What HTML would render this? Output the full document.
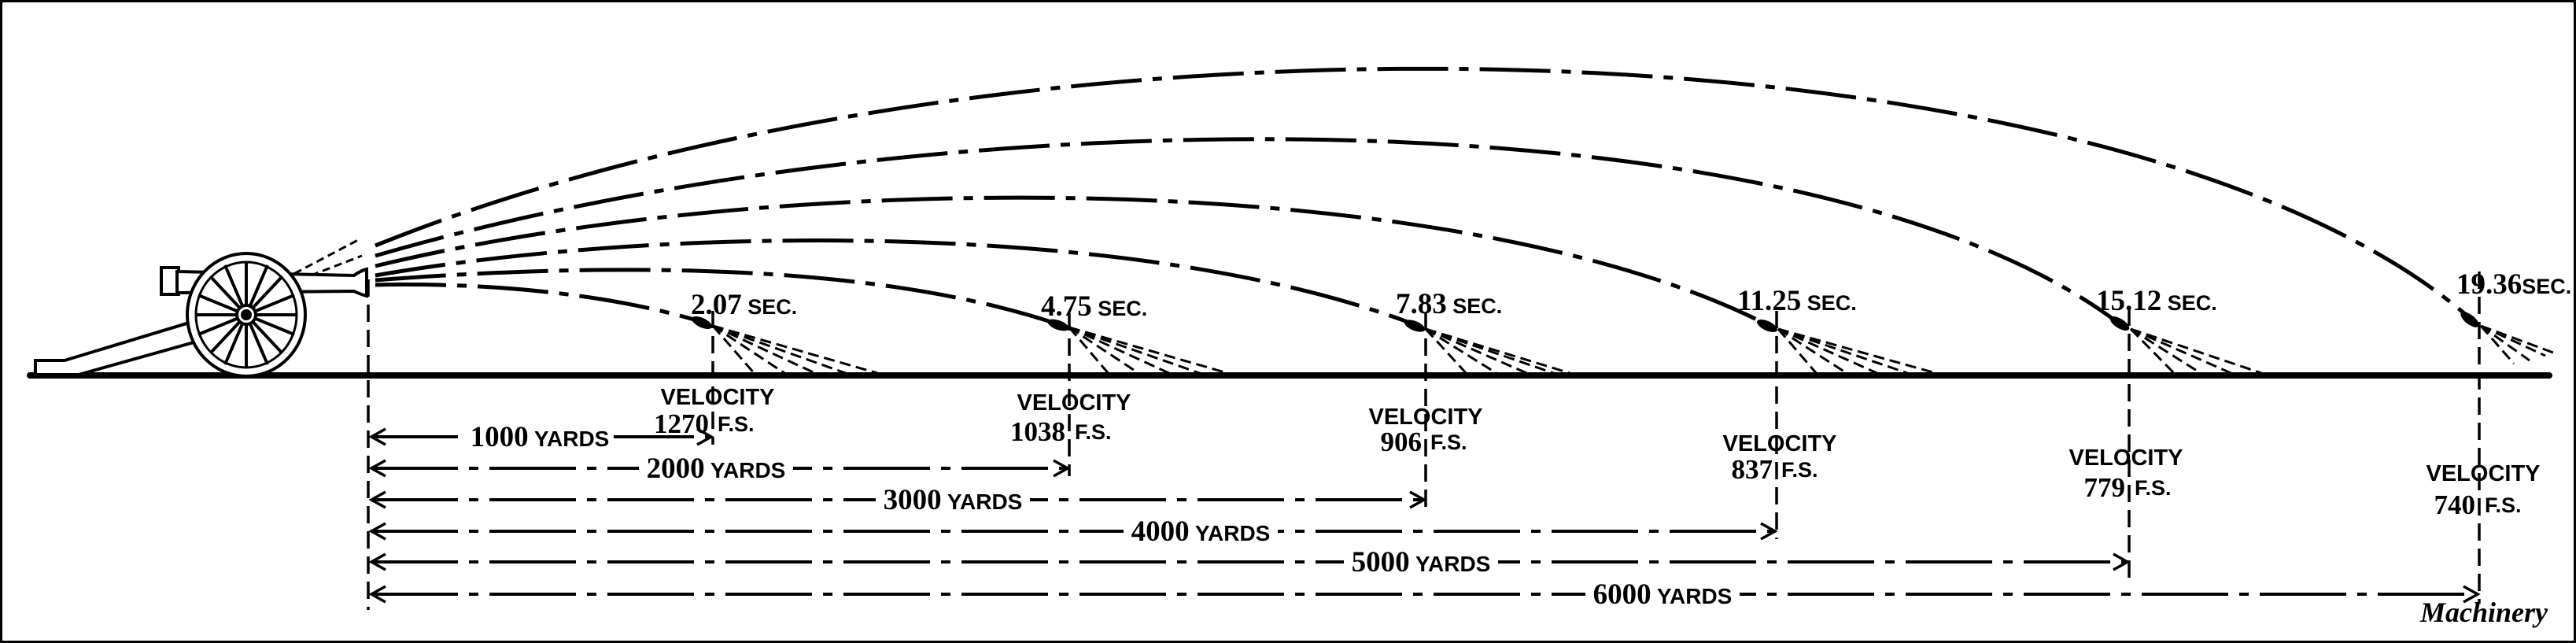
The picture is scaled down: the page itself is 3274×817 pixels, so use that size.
<!DOCTYPE html>
<html><head><meta charset="utf-8"><style>
html,body{margin:0;padding:0;background:#fff}
svg{display:block}
.num{font-family:"Liberation Serif",serif;font-weight:bold}
.g{font-family:"Liberation Sans",sans-serif;font-weight:bold}
</style></head><body>
<svg width="3274" height="817" viewBox="0 0 3274 817" xmlns="http://www.w3.org/2000/svg">
<rect x="1.5" y="1.5" width="3271" height="814" fill="#fff" stroke="#000" stroke-width="3"/>
<line x1="38" y1="477" x2="3240" y2="477" stroke="#000" stroke-width="8" stroke-linecap="round"/>

<g fill="none" stroke="#000" stroke-width="5" stroke-dasharray="90 14 12 14">
<path d="M477,312 C1300,-20 2700,20 3140,405"/>
<path d="M477,325 C1200,115 2300,115 2692,410"/>
<path d="M477,338 C1000,212 1850,212 2245,412"/>
<path d="M477,350 C850,285 1450,280 1797,412"/>
<path d="M477,356 C750,335 1100,330 1345,412"/>
<path d="M477,362 C650,358 800,380 895,410"/>
</g>
<g fill="none" stroke="#000" stroke-width="3" stroke-dasharray="10 6">
<path d="M360,355 L455,305"/><path d="M395,350 L460,325"/>
</g>

<g fill="#000">
<ellipse cx="892" cy="410" rx="14" ry="6" transform="rotate(25 892 410)"/>
<ellipse cx="1345" cy="413" rx="14" ry="6" transform="rotate(20 1345 413)"/>
<ellipse cx="1798" cy="414" rx="14" ry="6" transform="rotate(22 1798 414)"/>
<ellipse cx="2246" cy="414" rx="14" ry="6" transform="rotate(25 2246 414)"/>
<ellipse cx="2694" cy="411" rx="14" ry="6" transform="rotate(32 2694 411)"/>
<ellipse cx="3139" cy="406" rx="14" ry="6" transform="rotate(38 3139 406)"/>
</g>
<g fill="none" stroke="#000" stroke-width="3" stroke-dasharray="14 7">
<path d="M906,414 L960,476 M906,414 L1000,476 M906,414 L1040,476 M906,414 L1080,476 M906,414 L1115,474"/>
<path d="M1359,416 L1410,476 M1359,416 L1450,476 M1359,416 L1490,476 M1359,416 L1530,476 M1359,416 L1560,474"/>
<path d="M1812,418 L1865,476 M1812,418 L1905,476 M1812,418 L1945,476 M1812,418 L1980,476 M1812,418 L1995,474"/>
<path d="M2260,418 L2310,476 M2260,418 L2350,476 M2260,418 L2390,476 M2260,418 L2430,476 M2260,418 L2460,474"/>
<path d="M2708,418 L2765,476 M2708,418 L2800,476 M2708,418 L2840,476 M2708,418 L2880,476"/>
<path d="M3153,414 L3195,462 M3153,414 L3215,458 M3153,414 L3235,452 M3153,414 L3245,448"/>
</g>

<g stroke="#000" stroke-width="3.5" stroke-dasharray="22 10">
<line x1="468" y1="355" x2="468" y2="775"/>
<line x1="906" y1="395" x2="906" y2="565"/>
<line x1="1359" y1="398" x2="1359" y2="605"/>
<line x1="1812" y1="398" x2="1812" y2="645"/>
<line x1="2258" y1="395" x2="2258" y2="685"/>
<line x1="2706" y1="392" x2="2706" y2="737"/>
<line x1="3151" y1="345" x2="3151" y2="767"/>
</g>

<g fill="none" stroke="#000" stroke-width="4" stroke-dasharray="110 14 12 14">
<line x1="472" y1="555" x2="904" y2="555"/>
<line x1="472" y1="595" x2="1357" y2="595"/>
<line x1="472" y1="635" x2="1810" y2="635"/>
<line x1="472" y1="675" x2="2256" y2="675"/>
<line x1="472" y1="714" x2="2704" y2="714"/>
<line x1="472" y1="755" x2="3149" y2="755"/>
</g>
<g fill="none" stroke="#000" stroke-width="3.5">
<path d="M490,545 L472,555 L490,565 M886,545 L904,555 L886,565"/>
<path d="M490,585 L472,595 L490,605 M1339,585 L1357,595 L1339,605"/>
<path d="M490,625 L472,635 L490,645 M1792,625 L1810,635 L1792,645"/>
<path d="M490,665 L472,675 L490,685 M2238,665 L2256,675 L2238,685"/>
<path d="M490,704 L472,714 L490,724 M2686,704 L2704,714 L2686,724"/>
<path d="M490,745 L472,755 L490,765 M3131,745 L3149,755 L3131,765"/>
</g>
<g text-anchor="middle">
<rect x="590" y="538" width="190" height="34" fill="#fff"/>
<text x="686" y="567"><tspan class="num" font-size="37">1000</tspan><tspan class="g" font-size="28"> YARDS</tspan></text>
<rect x="812" y="578" width="196" height="34" fill="#fff"/>
<text x="910" y="607"><tspan class="num" font-size="37">2000</tspan><tspan class="g" font-size="28"> YARDS</tspan></text>
<rect x="1113" y="618" width="196" height="34" fill="#fff"/>
<text x="1211" y="647"><tspan class="num" font-size="37">3000</tspan><tspan class="g" font-size="28"> YARDS</tspan></text>
<rect x="1428" y="658" width="196" height="34" fill="#fff"/>
<text x="1526" y="687"><tspan class="num" font-size="37">4000</tspan><tspan class="g" font-size="28"> YARDS</tspan></text>
<rect x="1708" y="697" width="196" height="34" fill="#fff"/>
<text x="1806" y="726"><tspan class="num" font-size="37">5000</tspan><tspan class="g" font-size="28"> YARDS</tspan></text>
<rect x="2015" y="738" width="196" height="34" fill="#fff"/>
<text x="2113" y="767"><tspan class="num" font-size="37">6000</tspan><tspan class="g" font-size="28"> YARDS</tspan></text>
</g>

<g>
<text x="878" y="399"><tspan class="num" font-size="37">2.07</tspan><tspan class="g" font-size="27"> SEC.</tspan></text>
<text x="1323" y="401"><tspan class="num" font-size="37">4.75</tspan><tspan class="g" font-size="27"> SEC.</tspan></text>
<text x="1774" y="398"><tspan class="num" font-size="37">7.83</tspan><tspan class="g" font-size="27"> SEC.</tspan></text>
<text x="2208" y="394"><tspan class="num" font-size="37">11.25</tspan><tspan class="g" font-size="27"> SEC.</tspan></text>
<text x="2664" y="394"><tspan class="num" font-size="37">15.12</tspan><tspan class="g" font-size="27"> SEC.</tspan></text>
<text x="3122" y="373"><tspan class="num" font-size="37">19.36</tspan><tspan class="g" font-size="27">SEC.</tspan></text>
</g>

<g class="g" font-size="29" text-anchor="middle">
<text x="912" y="514">VELOCITY</text>
<text x="1365" y="521">VELOCITY</text>
<text x="1812" y="539">VELOCITY</text>
<text x="2262" y="573">VELOCITY</text>
<text x="2702" y="591">VELOCITY</text>
<text x="3156" y="611">VELOCITY</text>
</g>
<g>
<text x="901" y="550" text-anchor="end" class="num" font-size="35">1270</text><text x="912" y="548" class="g" font-size="27">F.S.</text>
<text x="1354" y="560" text-anchor="end" class="num" font-size="35">1038</text><text x="1366" y="558" class="g" font-size="27">F.S.</text>
<text x="1807" y="573" text-anchor="end" class="num" font-size="35">906</text><text x="1818" y="571" class="g" font-size="27">F.S.</text>
<text x="2253" y="608" text-anchor="end" class="num" font-size="35">837</text><text x="2264" y="606" class="g" font-size="27">F.S.</text>
<text x="2701" y="631" text-anchor="end" class="num" font-size="35">779</text><text x="2713" y="629" class="g" font-size="27">F.S.</text>
<text x="3146" y="653" text-anchor="end" class="num" font-size="35">740</text><text x="3158" y="651" class="g" font-size="27">F.S.</text>
</g>

<g fill="#fff" stroke="#000" stroke-width="4">
<path d="M45,458 L82,458 L290,395 L300,420 L100,476 L45,476 Z"/>
<rect x="205" y="340" width="22" height="34"/>
<path d="M225,345 L450,350 Q458,344 466,342 L466,376 Q458,374 450,370 L225,372 Z"/>
<ellipse cx="313" cy="400" rx="75" ry="78"/>
<ellipse cx="313" cy="400" rx="64" ry="67" stroke-width="3"/>
<g stroke-width="4">
<line x1="313" y1="333" x2="313" y2="467"/>
<line x1="249" y1="400" x2="377" y2="400"/>
<line x1="268" y1="352" x2="358" y2="448"/>
<line x1="358" y1="352" x2="268" y2="448"/>
<line x1="286" y1="337" x2="340" y2="463"/>
<line x1="340" y1="337" x2="286" y2="463"/>
<line x1="252" y1="375" x2="374" y2="425"/>
<line x1="252" y1="425" x2="374" y2="375"/>
</g>
<circle cx="313" cy="400" r="12"/>
<circle cx="313" cy="400" r="5" fill="#000"/>
</g>

<text x="3238" y="790" text-anchor="end" font-family="Liberation Serif,serif" font-weight="bold" font-style="italic" font-size="36">Machinery</text>
</svg>
</body></html>
